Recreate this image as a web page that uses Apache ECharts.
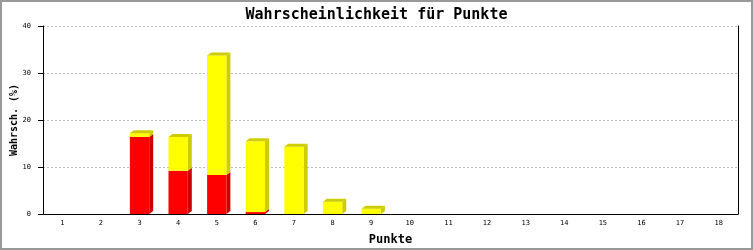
<!DOCTYPE html>
<html><head><meta charset="utf-8">
<script src="https://cdn.jsdelivr.net/npm/echarts@6/dist/echarts.min.js"></script>
<style>html,body{margin:0;padding:0;background:#fff}#c{width:753px;height:250px}</style>
</head><body><div id="c"></div>
<script>
const categories = ['1','2','3','4','5','6','7','8','9','10','11','12','13','14','15','16','17','18'];
const redValues = [0,0,16.4,9.2,8.3,0.4,0,0,0,0,0,0,0,0,0,0,0,0];
const yellowValues = [0,0,0.8,7.2,25.4,15.1,14.3,2.6,1.1,0,0,0,0,0,0,0,0,0];
const yTicks = [0,10,20,30,40];

const data = categories.map((c,i)=>[i, redValues[i], yellowValues[i]]);
const chart = echarts.init(document.getElementById('c'), null, {renderer:'canvas'});
const mono = 'DejaVu Sans Mono';
chart.setOption({
  animation:false,
  backgroundColor:'#fff',
  title:{text:'Wahrscheinlichkeit für Punkte', left:'center', top:3,
    textStyle:{fontFamily:mono, fontSize:15, fontWeight:'bold', color:'#000'}},
  grid:{left:43, right:15, top:26, bottom:36, containLabel:false, outerBoundsMode:'none'},
  xAxis:{type:'category', data:categories, boundaryGap:true,
    name:'Punkte', nameLocation:'middle', nameGap:20, nameMoveOverlap:false,
    nameTextStyle:{fontFamily:mono, fontSize:12, fontWeight:'bold', color:'#000'},
    axisLine:{lineStyle:{color:'#000', width:1}}, axisTick:{show:false},
    axisLabel:{fontFamily:mono, fontSize:7, color:'#000', margin:6}},
  yAxis:[{type:'value', min:yTicks[0], max:yTicks[yTicks.length-1], interval:10,
    name:'Wahrsch. (%)', nameLocation:'middle', nameGap:24, nameRotate:90, nameMoveOverlap:false,
    nameTextStyle:{fontFamily:mono, fontSize:10, fontWeight:'bold', color:'#000'},
    axisLine:{show:true, lineStyle:{color:'#000'}},
    axisTick:{show:true, length:5, lineStyle:{color:'#000'}},
    axisLabel:{fontFamily:mono, fontSize:7, color:'#000', margin:12},
    splitLine:{show:true, lineStyle:{color:'#bbb', type:[2,2], width:1}}},
   {type:'value', position:'right', min:0, max:40, interval:10,
    axisLine:{show:true, lineStyle:{color:'#000'}}, axisTick:{show:false},
    axisLabel:{show:false}, splitLine:{show:false}}],
  graphic:[{type:'rect', shape:{x:1,y:1,width:751,height:248}, style:{fill:null, stroke:'#999', lineWidth:2}, z:100}],
  series:[{type:'custom', data:data, encode:{x:0, y:[1,2]},
    renderItem:function(params, api){
      const idx = api.value(0), r = api.value(1), yv = api.value(2);
      const bw = api.size([1,0])[0]*0.5;
      const dx = 4, dy = 3;
      const segs = [[0,r,'#ff0000','#cc0000'],[r,r+yv,'#ffff00','#cccc00']].filter(s=>s[1]>s[0]);
      const children = [];
      let last = null;
      segs.forEach(s=>{
        const p0 = api.coord([idx, s[0]]), p1 = api.coord([idx, s[1]]);
        const xl = p0[0]-bw/2, xr = p0[0]+bw/2;
        children.push({type:'polygon', shape:{points:[[xr,p1[1]],[xr+dx,p1[1]-dy],[xr+dx,p0[1]-dy],[xr,p0[1]]]}, style:{fill:s[3]}});
        children.push({type:'rect', shape:{x:xl, y:p1[1], width:bw, height:p0[1]-p1[1]}, style:{fill:s[2]}});
        last = {xl:xl, xr:xr, top:p1[1], col:s[3]};
      });
      if(last){
        children.push({type:'polygon', shape:{points:[[last.xl,last.top],[last.xl+dx,last.top-dy],[last.xr+dx,last.top-dy],[last.xr,last.top]]}, style:{fill:last.col}});
      }
      return {type:'group', children:children};
    }}]
});
</script></body></html>
